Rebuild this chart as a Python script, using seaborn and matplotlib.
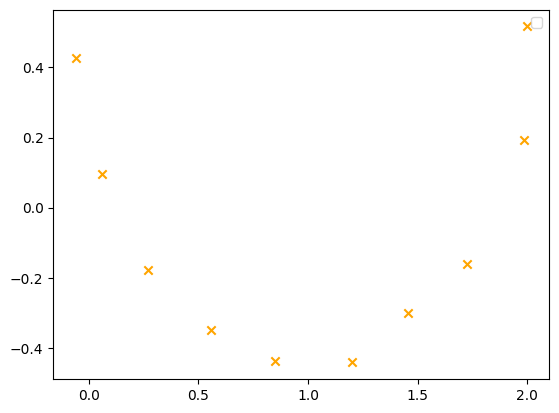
import matplotlib
matplotlib.use("Agg")
import matplotlib.pyplot as plt
import pandas as pd
import seaborn as sns

# values
x_vals = [-0.060, 0.058, 0.268, 0.559, 0.848, 1.200, 1.456, 1.725, 1.985, 1.998]
y_vals = [0.427, 0.097, -0.179, -0.348, -0.438, -0.442, -0.302, -0.162, 0.194, 0.517]

df = pd.DataFrame({"x": x_vals, "y": y_vals})

fig, ax = plt.subplots(figsize=(6.4, 4.8), dpi=100)
sns.scatterplot(data=df, x="x", y="y", marker="x", color="orange",
                s=36, linewidth=1.5, ax=ax)
ax.set_xlabel("")
ax.set_ylabel("")
ax.legend()
fig.savefig("out.png", dpi=100, bbox_inches="tight")
